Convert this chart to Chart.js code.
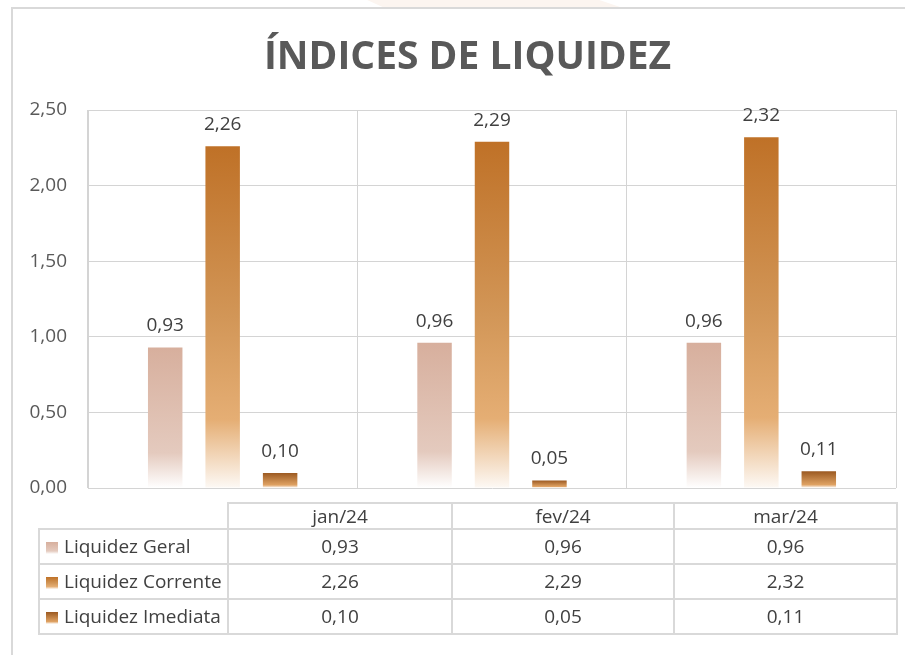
<!DOCTYPE html>
<html lang="pt">
<head>
  <meta charset="UTF-8">
  <title>Índices de Liquidez</title>
  <script src="https://cdn.jsdelivr.net/npm/chart.js"></script>
  <style>
    body {
      margin: 0;
      background: #fff;
      font-family: "Open Sans", Arial, sans-serif;
    }
    .wrap {
      position: relative;
      width: 905px;
      height: 655px;
      overflow: hidden;
    }
    .frame {
      position: absolute;
      left: 11px;
      top: 7px;
      width: 1000px;
      height: 700px;
      border-left: 2px solid #d9d9d9;
      border-top: 2px solid #d9d9d9;
    }
    .shape {
      position: absolute;
      left: 362px;
      top: 0;
      width: 258px;
      height: 7px;
      background: #fcf5f0;
      clip-path: polygon(2% 0, 92% 0, 100% 100%, 8% 100%);
    }
    h1 {
      position: absolute;
      left: 0;
      width: 935px;
      top: 27px;
      margin: 0;
      text-align: center;
      font-size: 39px;
      font-weight: 700;
      color: #595959;
    }
    canvas {
      position: absolute;
      left: 0;
      top: 0;
    }
    table {
      position: absolute;
      left: 38px;
      top: 502px;
      border-collapse: collapse;
      table-layout: fixed;
      font-size: 19px;
      color: #404040;
    }
    td {
      border: 2px solid #d9d9d9;
      text-align: center;
      padding: 0;
      white-space: nowrap;
      line-height: 1;
    }
    tr.head td { height: 24px; }
    tr.row td { height: 33px; }
    td.empty { border: none; }
    td.name { text-align: left; padding-left: 6px; }
    .sw {
      display: inline-block;
      width: 12px;
      height: 12px;
      margin-right: 6px;
      vertical-align: -1px;
    }
  </style>
</head>
<body>
<div class="wrap">
  <div class="shape"></div>
  <div class="frame"></div>
  <canvas id="chart" width="905" height="655"></canvas>
  <h1>ÍNDICES DE LIQUIDEZ</h1>
  <table id="tbl"></table>
</div>

<script>
  const months = ['jan/24', 'fev/24', 'mar/24'];
  const seriesNames = ['Liquidez Geral', 'Liquidez Corrente', 'Liquidez Imediata'];
  const geral = [0.93, 0.96, 0.96];
  const corrente = [2.26, 2.29, 2.32];
  const imediata = [0.10, 0.05, 0.11];
  const yTicks = [0, 0.5, 1, 1.5, 2, 2.5];

  // gradient stops per series (top -> bottom of each bar)
  const stopsGeral = [[0, '#d7af9d'], [0.75, '#e4cabe'], [1, '#ffffff']];
  const stopsCorrente = [[0, '#bf7127'], [0.5, '#d29657'], [0.8, '#e5ae74'], [1, '#fdf9f5']];
  const stopsImediata = [[0, '#9b5921'], [0.8, '#dfa263'], [1, '#ffffff']];

  const fmt = v => v.toFixed(2).replace('.', ',');

  const grad = stops => ctx => {
    const chart = ctx.chart;
    const ys = chart.scales && chart.scales.y;
    if (!ys || ctx.raw == null) return stops[0][1];
    const top = ys.getPixelForValue(ctx.raw);
    const bot = ys.getPixelForValue(0);
    if (!isFinite(top) || !isFinite(bot) || top === bot) return stops[0][1];
    const g = chart.ctx.createLinearGradient(0, top, 0, bot);
    stops.forEach(s => g.addColorStop(s[0], s[1]));
    return g;
  };

  const valueLabels = {
    id: 'valueLabels',
    afterDatasetsDraw(chart) {
      const c = chart.ctx;
      c.save();
      c.font = '19px "Open Sans"';
      c.fillStyle = '#404040';
      c.textAlign = 'center';
      c.textBaseline = 'alphabetic';
      chart.data.datasets.forEach((ds, i) => {
        chart.getDatasetMeta(i).data.forEach((el, j) => {
          c.fillText(fmt(ds.data[j]), el.x, el.y - 16);
        });
      });
      c.restore();
    }
  };

  const gridColor = '#d4d4d4';

  new Chart(document.getElementById('chart'), {
    type: 'bar',
    data: {
      labels: months,
      datasets: [
        { label: seriesNames[0], data: geral, backgroundColor: grad(stopsGeral) },
        { label: seriesNames[1], data: corrente, backgroundColor: grad(stopsCorrente) },
        { label: seriesNames[2], data: imediata, backgroundColor: grad(stopsImediata) }
      ]
    },
    options: {
      responsive: false,
      animation: false,
      datasets: { bar: { categoryPercentage: 0.64, barPercentage: 0.6 } },
      layout: { padding: { left: 12, top: 110, right: 9, bottom: 167 } },
      plugins: {
        legend: { display: false },
        title: { display: false },
        tooltip: { enabled: false }
      },
      scales: {
        x: {
          offset: true,
          grid: { offset: true, color: gridColor, lineWidth: 1, drawTicks: false },
          border: { display: false },
          ticks: { display: false },
          afterFit: s => { s.height = 0; }
        },
        y: {
          min: 0,
          max: 2.5,
          afterBuildTicks: s => { s.ticks = yTicks.map(v => ({ value: v })); },
          grid: { color: gridColor, lineWidth: 1, drawTicks: false },
          border: { display: true, color: gridColor },
          ticks: {
            padding: 21,
            color: '#595959',
            font: { family: 'Open Sans', size: 19 },
            callback: v => fmt(v)
          },
          afterFit: s => { s.width = 76; }
        }
      }
    },
    plugins: [valueLabels]
  });

  // data table under the plot
  const cssGrad = stops => 'linear-gradient(to bottom,' +
    stops.map(s => s[1] + ' ' + (s[0] * 100) + '%').join(',') + ')';
  const allStops = [stopsGeral, stopsCorrente, stopsImediata];
  const allData = [geral, corrente, imediata];
  const colW = [189, 224, 222, 223];

  const tbl = document.getElementById('tbl');
  let html = '<colgroup>' + colW.map(w => '<col style="width:' + w + 'px">').join('') + '</colgroup>';
  html += '<tr class="head"><td class="empty"></td>' + months.map(m => '<td>' + m + '</td>').join('') + '</tr>';
  seriesNames.forEach((name, i) => {
    html += '<tr class="row"><td class="name"><span class="sw" style="background:' +
      cssGrad(allStops[i]) + '"></span>' + name + '</td>' +
      allData[i].map(v => '<td>' + fmt(v) + '</td>').join('') + '</tr>';
  });
  tbl.innerHTML = html;
</script>
</body>
</html>
